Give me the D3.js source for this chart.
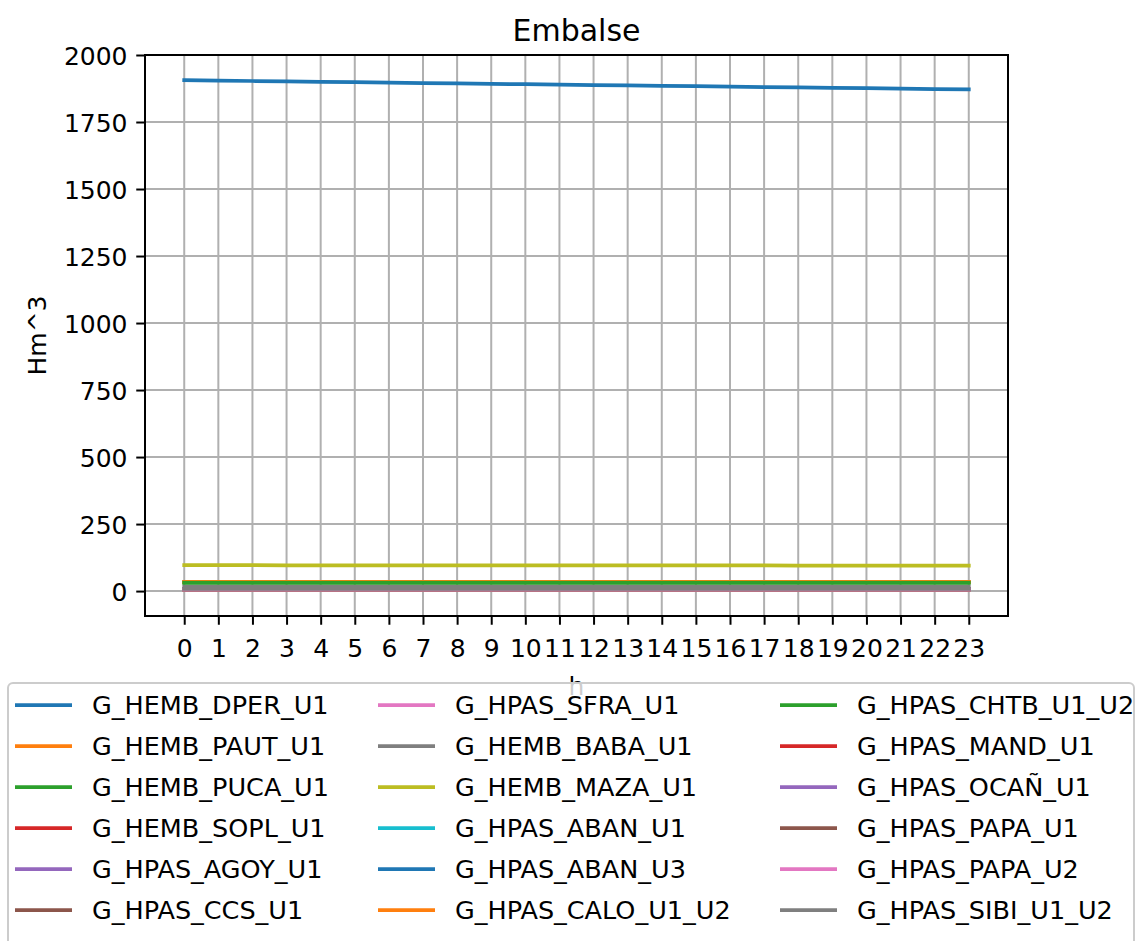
<!DOCTYPE html>
<html><head><meta charset="utf-8">
<script src="https://cdn.jsdelivr.net/npm/d3@7"></script>
<style>body{margin:0;background:#fff;} svg{display:block;font-family:"DejaVu Sans",sans-serif;}</style>
</head><body><svg id="c" width="1137" height="941"></svg>
<script>
const hours = d3.range(0, 24);
const seriesNames = ["G_HEMB_DPER_U1","G_HEMB_PAUT_U1","G_HEMB_PUCA_U1","G_HEMB_SOPL_U1","G_HPAS_AGOY_U1","G_HPAS_CCS_U1",
  "G_HPAS_SFRA_U1","G_HEMB_BABA_U1","G_HEMB_MAZA_U1","G_HPAS_ABAN_U1","G_HPAS_ABAN_U3","G_HPAS_CALO_U1_U2",
  "G_HPAS_CHTB_U1_U2","G_HPAS_MAND_U1","G_HPAS_OCAÑ_U1","G_HPAS_PAPA_U1","G_HPAS_PAPA_U2","G_HPAS_SIBI_U1_U2"];
const DPER = [1906.0,1904.5,1903.0,1901.5,1900.0,1898.5,1897.0,1895.5,1894.0,1892.5,1891.0,1889.5,1888.0,1886.5,1885.0,1883.5,1882.0,1880.5,1879.0,1877.5,1876.0,1874.5,1873.0,1871.5];
const PAUT = [34,34,34,34,34,34,34,34,34,34,34,34,34,34,34,34,34,34,34,34,34,34,34,34];
const PUCA = [32,32,32,32,32,32,32,32,32,32,32,32,32,32,32,32,32,32,32,32,32,32,32,32];
const SOPL = [8,8,8,8,8,8,8,8,8,8,8,8,8,8,8,8,8,8,8,8,8,8,8,8];
const AGOY = [7,7,7,7,7,7,7,7,7,7,7,7,7,7,7,7,7,7,7,7,7,7,7,7];
const CCS  = [6,6,6,6,6,6,6,6,6,6,6,6,6,6,6,6,6,6,6,6,6,6,6,6];
const SFRA = [7,7,7,7,7,7,7,7,7,7,7,7,7,7,7,7,7,7,7,7,7,7,7,7];
const BABA = [17,17,17,17,17,17,17,17,17,17,17,17,17,17,17,17,17,17,17,17,17,17,17,17];
const MAZA = [96.5,96.4,96.4,96.3,96.3,96.2,96.1,96.1,96.0,96.0,95.9,95.8,95.8,95.7,95.7,95.6,95.5,95.5,95.4,95.4,95.3,95.2,95.2,95.1];
const ABAN1 = [8,8,8,8,8,8,8,8,8,8,8,8,8,8,8,8,8,8,8,8,8,8,8,8];
const ABAN3 = [7,7,7,7,7,7,7,7,7,7,7,7,7,7,7,7,7,7,7,7,7,7,7,7];
const CALO = [33,33,33,33,33,33,33,33,33,33,33,33,33,33,33,33,33,33,33,33,33,33,33,33];
const CHTB = [31,31,31,31,31,31,31,31,31,31,31,31,31,31,31,31,31,31,31,31,31,31,31,31];
const MAND = [6,6,6,6,6,6,6,6,6,6,6,6,6,6,6,6,6,6,6,6,6,6,6,6];
const OCAN = [7,7,7,7,7,7,7,7,7,7,7,7,7,7,7,7,7,7,7,7,7,7,7,7];
const PAPA1 = [6,6,6,6,6,6,6,6,6,6,6,6,6,6,6,6,6,6,6,6,6,6,6,6];
const PAPA2 = [6,6,6,6,6,6,6,6,6,6,6,6,6,6,6,6,6,6,6,6,6,6,6,6];
const SIBI = [8,8,8,8,8,8,8,8,8,8,8,8,8,8,8,8,8,8,8,8,8,8,8,8];
const seriesValues = [DPER,PAUT,PUCA,SOPL,AGOY,CCS,SFRA,BABA,MAZA,ABAN1,ABAN3,CALO,CHTB,MAND,OCAN,PAPA1,PAPA2,SIBI];
const yTicks = [0,250,500,750,1000,1250,1500,1750,2000];
const colors = ["#1f77b4","#ff7f0e","#2ca02c","#d62728","#9467bd","#8c564b","#e377c2","#7f7f7f","#bcbd22","#17becf"];

const svg = d3.select("#c");
const L = 145, R = 1008, T = 55, B = 616;
const x = d3.scaleLinear().domain([-0.05*23, 23*1.05]).range([L, R]);
const y = d3.scaleLinear().domain([-93, 2000]).range([B, T]);

// grid
const g = svg.append("g");
g.selectAll(".gx").data(hours).join("line").attr("x1", d=>x(d)).attr("x2", d=>x(d)).attr("y1", T).attr("y2", B)
  .attr("stroke", "#b0b0b0").attr("stroke-width", 2);
g.selectAll(".gy").data(yTicks).join("line").attr("y1", d=>y(d)).attr("y2", d=>y(d)).attr("x1", L).attr("x2", R)
  .attr("stroke", "#b0b0b0").attr("stroke-width", 2);

// lines
const line = d3.line().x((d,i)=>x(hours[i])).y(d=>y(d));
svg.append("g").selectAll("path").data(seriesValues).join("path")
  .attr("d", d=>line(d)).attr("fill","none").attr("stroke",(d,i)=>colors[i%10]).attr("stroke-width",3.75)
  .attr("stroke-linecap","square");

// axes
const xa = svg.append("g").attr("transform", `translate(0,${B})`)
  .call(d3.axisBottom(x).tickValues(hours).tickSize(8.75).tickPadding(8.75).tickFormat(d3.format("d")));
const ya = svg.append("g").attr("transform", `translate(${L},0)`)
  .call(d3.axisLeft(y).tickValues(yTicks).tickSize(8.75).tickPadding(8.75).tickFormat(d3.format("d")));
[xa, ya].forEach(a => {
  a.select(".domain").remove();
  a.selectAll("line").attr("stroke","#000").attr("stroke-width",2);
  a.selectAll("text").attr("font-size",25).attr("font-family","DejaVu Sans").attr("fill","#000");
});
xa.selectAll("text").attr("dy","0.93em");
ya.selectAll("text").attr("dy","0.36em");

svg.append("rect").attr("x",L).attr("y",T).attr("width",R-L).attr("height",B-T)
  .attr("fill","none").attr("stroke","#000").attr("stroke-width",2);

// title & labels
svg.append("text").attr("x",(L+R)/2).attr("y",41).attr("text-anchor","middle").attr("font-size",30).text("Embalse");
svg.append("text").attr("transform",`translate(46,${(T+B)/2}) rotate(-90)`).attr("text-anchor","middle")
  .attr("font-size",25).text("Hm^3");
svg.append("text").attr("x",(L+R)/2).attr("y",695).attr("text-anchor","middle").attr("font-size",25).text("h");

// legend
const lg = svg.append("g");
lg.append("rect").attr("x",8).attr("y",683).attr("width",1126).attr("height",300).attr("rx",5)
  .attr("fill","#fff").attr("fill-opacity",0.8).attr("stroke","#cccccc").attr("stroke-width",2);
const colX = [15, 378, 780];
const rowY0 = 705, rowStep = 41;
seriesNames.forEach((name, i) => {
  const c = Math.floor(i/6), r = i%6;
  const yy = rowY0 + r*rowStep;
  lg.append("line").attr("x1",colX[c]).attr("x2",colX[c]+57).attr("y1",yy).attr("y2",yy)
    .attr("stroke",colors[i%10]).attr("stroke-width",3.75);
  lg.append("text").attr("x",colX[c]+77).attr("y",yy).attr("dy","0.36em").attr("font-size",25.5).text(name);
});
</script></body></html>
